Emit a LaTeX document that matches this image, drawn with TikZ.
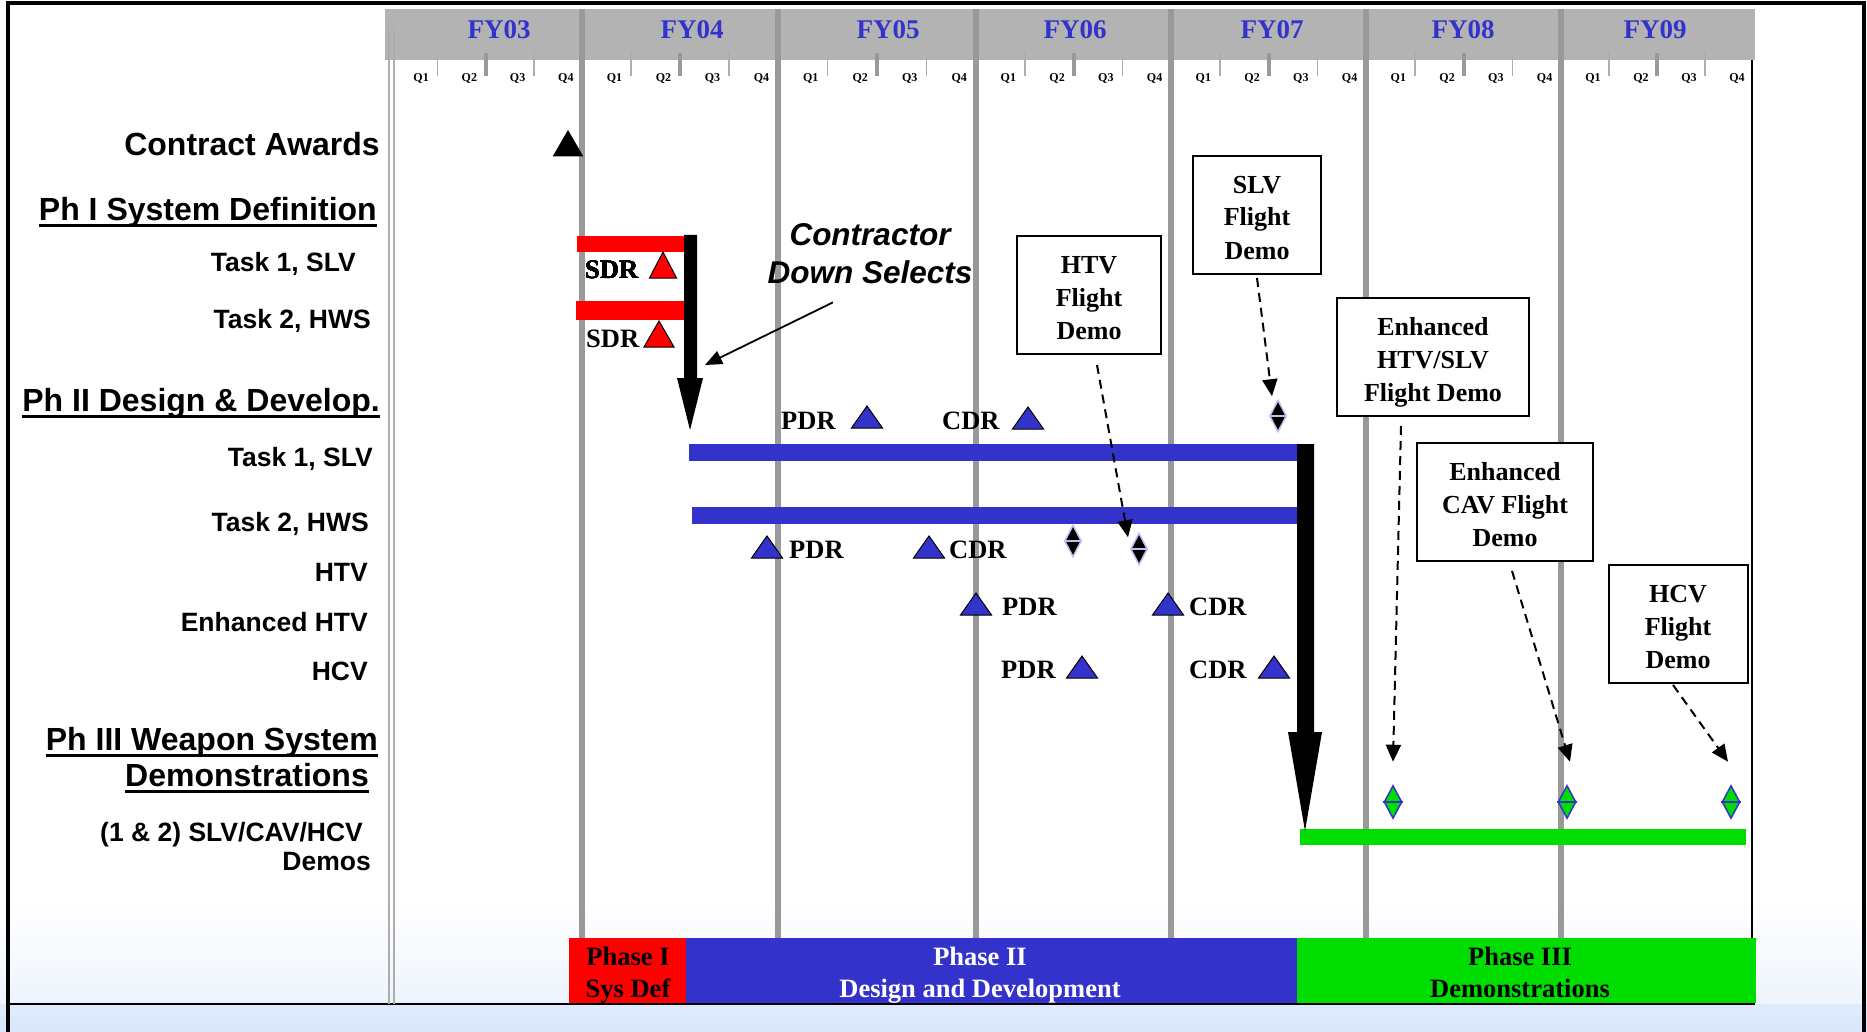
\documentclass[tikz,border=0pt]{standalone}
\usepackage{fontspec}
\setmainfont{Liberation Serif}
\setsansfont{Liberation Sans}
\usetikzlibrary{arrows.meta,shapes.geometric}

\definecolor{planblue}{RGB}{51,51,204}
\definecolor{plangreen}{RGB}{0,221,0}
\definecolor{bandgray}{RGB}{179,179,179}
\definecolor{divgray}{RGB}{153,153,153}
\definecolor{slideblue}{RGB}{218,231,251}
\definecolor{lavender}{RGB}{190,190,245}

\tikzset{
  rowlab/.style={anchor=base east, inner sep=0pt, font=\sffamily\bfseries\fontsize{26.5}{32}\selectfont},
  headlab/.style={anchor=base east, inner sep=0pt, font=\sffamily\bfseries\fontsize{32}{38}\selectfont},
  mslab/.style={anchor=base west, inner sep=0pt, font=\bfseries\fontsize{26.5}{32}\selectfont},
  fylab/.style={inner sep=0pt, text=planblue, font=\bfseries\fontsize{27}{32}\selectfont},
  qlab/.style={inner sep=0pt, font=\bfseries\fontsize{12}{14}\selectfont},
  demobox/.style={draw, line width=2pt, fill=white, align=center, inner sep=0pt, minimum height=118pt, font=\bfseries\fontsize{26}{33}\selectfont},
  demoarrow/.style={line width=2pt, dash pattern=on 9pt off 6pt, -{Triangle[length=17pt,width=15pt]}},
  blackdia/.style={diamond, inner sep=0pt, minimum width=17pt, minimum height=32pt, fill=black, draw=lavender, line width=1.5pt},
  greendia/.style={diamond, inner sep=0pt, minimum width=18pt, minimum height=33pt, fill=plangreen, draw=planblue, line width=1.5pt},
  phaselab/.style={align=center, inner sep=0pt, font=\bfseries\fontsize{26.5}{32}\selectfont}
}

% milestone triangle: centre x, base y, width, height, colour
\newcommand{\mstri}[5]{\filldraw[fill=#5, draw=black, line width=1pt] ({#1-#3/2},#2) -- ({#1+#3/2},#2) -- (#1,{#2-#4}) -- cycle;}
% three-line text for the demo boxes
\newcommand{\boxtext}[3]{\rule{0pt}{22pt}#1\\#2\\\smash{#3}}

\begin{document}
\begin{tikzpicture}[x=1pt, y=-1pt]
  \useasboundingbox (0,0) rectangle (1867,1032);

  % Sfondo e cornice
  \fill[white] (0,0) rectangle (1867,900);
  \shade[top color=white, bottom color=slideblue!45] (0,900) rectangle (1867,1004);
  \shade[top color=slideblue!85, bottom color=slideblue] (0,1004) rectangle (1867,1032);
  \draw[line width=4pt] (8,1032) -- (8,3) -- (1864,3) -- (1864,1032);
  \draw[line width=2pt] (8,1004) -- (1755,1004);

  % Intestazione anni
  \fill[bandgray] (385,9) rectangle (1755,60);
  \foreach \x in {582,778,976,1171,1366,1561}
    \draw[divgray, line width=6pt] (\x,9) -- (\x,938);
  \foreach \s/\e in {389/582,582/778,778/976,976/1171,1171/1366,1366/1561,1561/1753} {
    \draw[divgray!80, line width=1.5pt] ({\s+(\e-\s)/4},52) -- ({\s+(\e-\s)/4},76);
    \draw[divgray, line width=4pt] ({\s+(\e-\s)/2},53) -- ({\s+(\e-\s)/2},76);
    \draw[divgray!80, line width=1.5pt] ({\s+3*(\e-\s)/4},52) -- ({\s+3*(\e-\s)/4},76);
    \foreach \q in {1,...,4}
      \node[qlab] (q\s-\q) at ({\s+(\q-0.5)*(\e-\s)/4+8},79) {Q\q};
  }
  \foreach \x/\fy in {499/FY03,692/FY04,888/FY05,1075/FY06,1272/FY07,1463/FY08,1655/FY09}
    \node[fylab] (\fy) at (\x,30) {\fy};
  \draw[divgray!80, line width=1.2pt] (389,28) -- (389,1004);
  \draw[divgray!80, line width=1.2pt] (394,28) -- (394,1004);
  \draw[line width=1.5pt] (1752,60) -- (1752,1004);

  % Etichette a sinistra
  \node[headlab] (awards) at (380,156) {Contract Awards};
  \node[headlab] (ph1) at (377,221) {Ph I System Definition};
  \node[rowlab] (t1a) at (356,271) {Task 1, SLV};
  \node[rowlab] (t2a) at (371,328) {Task 2, HWS};
  \node[headlab] (ph2) at (380,411) {Ph II Design \& Develop.};
  \node[rowlab] (t1b) at (373,466) {Task 1, SLV};
  \node[rowlab] (t2b) at (369,531) {Task 2, HWS};
  \node[rowlab] (htv) at (368,581) {HTV};
  \node[rowlab] (ehtv) at (368,631) {Enhanced HTV};
  \node[rowlab] (hcv) at (368,680) {HCV};
  \node[headlab] (ph3a) at (378,750) {Ph III Weapon System};
  \node[headlab] (ph3b) at (369,786) {Demonstrations};
  \node[rowlab] (demoa) at (363,841) {(1 \& 2) SLV/CAV/HCV};
  \node[rowlab] (demob) at (371,870) {Demos};
  \foreach \n in {ph1,ph2,ph3a,ph3b}
    \draw[line width=3pt] ([yshift=-5pt]\n.base west) -- ([yshift=-5pt]\n.base east);

  % Fasi in basso
  \fill[red] (569,938) rectangle (686,1003);
  \fill[planblue] (686,938) rectangle (1297,1003);
  \fill[plangreen] (1297,938) rectangle (1756,1003);
  \node[phaselab] (ph1lab) at (628,972) {Phase I\\\smash{Sys Def}};
  \node[phaselab, text=white] (ph2lab) at (980,972) {Phase II\\\smash{Design and Development}};
  \node[phaselab] (ph3lab) at (1520,972) {Phase III\\\smash{Demonstrations}};

  % Barre
  \fill[red] (577,236) rectangle (684,252);
  \fill[red] (576,301) rectangle (684,320);
  \fill[planblue] (689,444) rectangle (1297,461);
  \fill[planblue] (692,507) rectangle (1297,524);
  \fill[plangreen] (1300,829) rectangle (1746,845);

  % Frecce nere grandi
  \fill (684,235) -- (697,235) -- (697,378) -- (703,378) -- (690,430) -- (677,378) -- (684,378) -- cycle;
  \fill (1297,444) -- (1314,444) -- (1314,732) -- (1322,732) -- (1305,831) -- (1288,732) -- (1297,732) -- cycle;

  % Traguardi
  \mstri{568}{156}{29}{25}{black}
  \mstri{663}{278}{27}{26}{red}
  \mstri{659}{347}{30}{26}{red}
  \foreach \x/\y in {867/428,1028/429,767/558,929/558,976/615,1168/615,1082/678,1274/678}
    \mstri{\x}{\y}{31}{22}{planblue}
  \node[mslab] (sdr1) at (585,278) {SDR};
  \node[mslab] (sdr2) at (586,347) {SDR};
  \node[mslab] (pdr1) at (781,429) {PDR};
  \node[mslab] (cdr1) at (942,429) {CDR};
  \node[mslab] (pdr2) at (789,558) {PDR};
  \node[mslab] (cdr2) at (949,558) {CDR};
  \node[mslab] (pdr3) at (1002,615) {PDR};
  \node[mslab] (cdr3) at (1189,615) {CDR};
  \node[mslab] (pdr4) at (1001,678) {PDR};
  \node[mslab] (cdr4) at (1189,678) {CDR};

  % Down select
  \node[font=\sffamily\bfseries\itshape\fontsize{31.5}{38}\selectfont, align=center, inner sep=0pt] (dsel) at (870,254) {Contractor\\Down Selects};
  \coordinate (dshaft) at (705,365);
  \draw[line width=1.8pt, -{Triangle[length=17pt,width=14pt]}] ([xshift=-37pt,yshift=-18pt]dsel.south) -- (dshaft);

  % Dimostrazioni di volo
  \node[demobox, minimum width=144pt] (htvbox) at (1089,295) {\boxtext{HTV}{Flight}{Demo}};
  \node[demobox, minimum width=128pt] (slvbox) at (1257,215) {\boxtext{SLV}{Flight}{Demo}};
  \node[demobox, minimum width=192pt] (ehsbox) at (1433,357) {\boxtext{Enhanced}{HTV/SLV}{Flight Demo}};
  \node[demobox, minimum width=176pt] (cavbox) at (1505,502) {\boxtext{Enhanced}{CAV Flight}{Demo}};
  \node[demobox, minimum width=139pt] (hcvbox) at (1678,624) {\boxtext{HCV}{Flight}{Demo}};

  \node[blackdia] (slvd) at (1278,416) {};
  \node[blackdia] (htvd1) at (1073,541) {};
  \node[blackdia] (htvd2) at (1139,549) {};
  \foreach \n in {slvd,htvd1,htvd2}
    \draw[lavender, line width=1.2pt] (\n.west) -- (\n.east);
  \node[greendia] (gd1) at (1393,802) {};
  \node[greendia] (gd2) at (1567,802) {};
  \node[greendia] (gd3) at (1731,802) {};
  \foreach \n in {gd1,gd2,gd3}
    \draw[planblue, line width=1.2pt] (\n.west) -- (\n.east);

  \draw[demoarrow] ([xshift=8pt,yshift=-10pt]htvbox.south) -- ([xshift=-11pt,yshift=-5pt]htvd2.north);
  \draw[demoarrow] ([yshift=-3pt]slvbox.south) -- ([xshift=-6pt,yshift=3pt]slvd.north);
  \draw[demoarrow] ([xshift=-32pt,yshift=-9pt]ehsbox.south) -- ([yshift=23pt]gd1.north);
  \draw[demoarrow] ([xshift=7pt,yshift=-9pt]cavbox.south) -- ([xshift=3pt,yshift=23pt]gd2.north);
  \draw[demoarrow] ([xshift=-5pt,yshift=-1pt]hcvbox.south) -- ([xshift=-3pt,yshift=23pt]gd3.north);
\end{tikzpicture}
\end{document}
